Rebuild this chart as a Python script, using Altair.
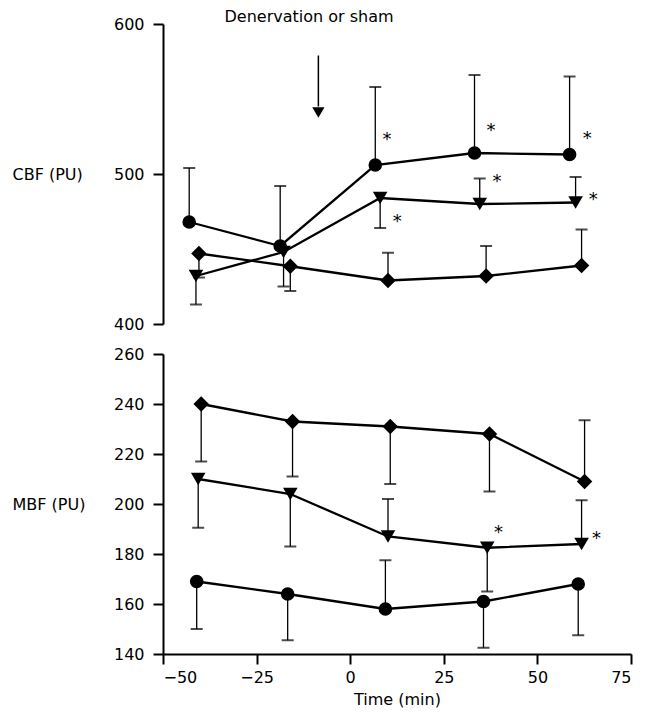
import altair as alt
import pandas as pd

# ---------------- data ----------------
groups = ["circle", "triangle", "diamond"]

# CBF panel
cbf_time = {
    "circle":   [-43.0, -18.7, 6.7, 33.2, 58.6],
    "triangle": [-41.2, -17.8, 8.0, 34.6, 60.2],
    "diamond":  [-40.4, -16.0, 10.1, 36.3, 61.8],
}
cbf_value = {
    "circle":   [468, 452, 506, 514, 513],
    "triangle": [432, 448, 484, 480, 481],
    "diamond":  [447, 438.5, 429, 432, 439],
}
cbf_err_end = {
    "circle":   [504, 492, 558, 566, 565],
    "triangle": [413, 425, 464, 497, 498],
    "diamond":  [431, 422, 447.5, 452, 463],
}

# MBF panel
mbf_time = {
    "circle":   [-41.0, -16.7, 9.4, 35.6, 60.9],
    "triangle": [-40.6, -16.0, 10.1, 36.6, 61.8],
    "diamond":  [-39.8, -15.4, 10.7, 37.2, 62.6],
}
mbf_value = {
    "circle":   [169, 164, 158, 161, 168],
    "triangle": [210, 204, 187, 182.5, 184],
    "diamond":  [240, 233, 231, 228, 209],
}
mbf_err_end = {
    "circle":   [150, 145.5, 177.5, 142.5, 147.5],
    "triangle": [190.5, 183, 202, 165, 201.5],
    "diamond":  [217, 211, 208, 205, 233.5],
}

# significance asterisks
cbf_star_x = [9.8, 37.6, 63.3, 12.6, 39.2, 64.9]
cbf_star_y = [525.7, 531.7, 526.8, 471.2, 497.9, 486.3]
mbf_star_x = [39.6, 65.8]
mbf_star_y = [190.3, 188.0]

# annotation
annot_text = "Denervation or sham"
annot_x = -11.0
annot_y = 605.0
arrow_x = -8.5
arrow_top = 579.0
arrow_bottom = 545.0
arrow_head = 541.0

x_ticks = [-50, -25, 0, 25, 50, 75]
cbf_ticks = [400, 500, 600]
mbf_ticks = [140, 160, 180, 200, 220, 240, 260]

FONT = "DejaVu Sans"


def build(time, value, err):
    rows = []
    for g in groups:
        for t, v, e in zip(time[g], value[g], err[g]):
            rows.append({"time": t, "value": v, "err": e, "group": g})
    return pd.DataFrame(rows)


cbf_df = build(cbf_time, cbf_value, cbf_err_end)
mbf_df = build(mbf_time, mbf_value, mbf_err_end)

shape_scale = alt.Scale(domain=groups, range=["circle", "triangle-down", "diamond"])
size_scale = alt.Scale(domain=groups, range=[185, 240, 160])
xscale = alt.Scale(domain=[-50, 75], nice=False, zero=False)

W, H = 468, 300


def panel(df, ydomain, yticks, ytitle, star_x, star_y, show_x):
    yscale = alt.Scale(domain=ydomain, nice=False, zero=False)
    if show_x:
        xaxis = alt.Axis(values=x_ticks, title="Time (min)", format="d")
    else:
        xaxis = None
    yaxis = alt.Axis(values=yticks, title=ytitle, titleAngle=0, titleAlign="left",
                     titleBaseline="middle", titleX=-151, titleY=H / 2, format="d")
    base = alt.Chart(df)
    x = alt.X("time:Q", scale=xscale, axis=xaxis)
    y = alt.Y("value:Q", scale=yscale, axis=yaxis)

    err_rule = base.mark_rule(color="black", strokeWidth=1.3).encode(
        x=x, y=y, y2="err:Q")
    cap = base.mark_tick(color="black", orient="horizontal", size=12, thickness=2).encode(
        x="time:Q", y="err:Q")
    line = base.mark_line(color="black", strokeWidth=2.3).encode(
        x="time:Q", y="value:Q", detail="group:N", order="time:Q")
    pts = base.mark_point(filled=True, color="black", opacity=1).encode(
        x="time:Q", y="value:Q",
        shape=alt.Shape("group:N", scale=shape_scale, legend=None),
        size=alt.Size("group:N", scale=size_scale, legend=None))
    stars = alt.Chart(pd.DataFrame({"x": star_x, "y": star_y})).mark_text(
        text="*", fontSize=18, font=FONT, baseline="alphabetic", dy=10, color="black"
    ).encode(x="x:Q", y="y:Q")
    layers = [err_rule, cap, line, pts, stars]
    return layers


top_layers = panel(cbf_df, [400, 600], cbf_ticks, "CBF (PU)", cbf_star_x, cbf_star_y, False)

annot = alt.Chart(pd.DataFrame({"x": [annot_x], "y": [annot_y], "t": [annot_text]})).mark_text(
    fontSize=16, font=FONT, baseline="middle", align="center", color="black"
).encode(x="x:Q", y="y:Q", text="t:N")
arrow_df = pd.DataFrame({"x": [arrow_x], "y": [arrow_top], "y2": [arrow_bottom], "yh": [arrow_head]})
arrow_shaft = alt.Chart(arrow_df).mark_rule(color="black", strokeWidth=1.5).encode(
    x="x:Q", y="y:Q", y2="y2:Q")
arrow_headm = alt.Chart(arrow_df).mark_point(
    shape="triangle-down", filled=True, color="black", opacity=1, size=150
).encode(x="x:Q", y="yh:Q")

top = alt.layer(*top_layers, arrow_shaft, arrow_headm, annot).properties(width=W, height=H)
bottom = alt.layer(*panel(mbf_df, [140, 260], mbf_ticks, "MBF (PU)", mbf_star_x, mbf_star_y, True)
                   ).properties(width=W, height=H)

chart = alt.vconcat(top, bottom, spacing=30, bounds="flush").properties(
    padding={"left": 4, "top": 0, "right": 5, "bottom": 5}
).configure_view(stroke=None).configure_axis(
    grid=False, domainColor="black", domainWidth=2, tickColor="black", tickWidth=2,
    tickSize=10, labelColor="black", labelFont=FONT, labelFontSize=16, labelPadding=5,
    titleColor="black", titleFont=FONT, titleFontSize=16, titleFontWeight="normal",
    titlePadding=6
).configure_axisY(labelPadding=9)

chart.save("out.html", embed_options={"renderer": "svg", "actions": False})
